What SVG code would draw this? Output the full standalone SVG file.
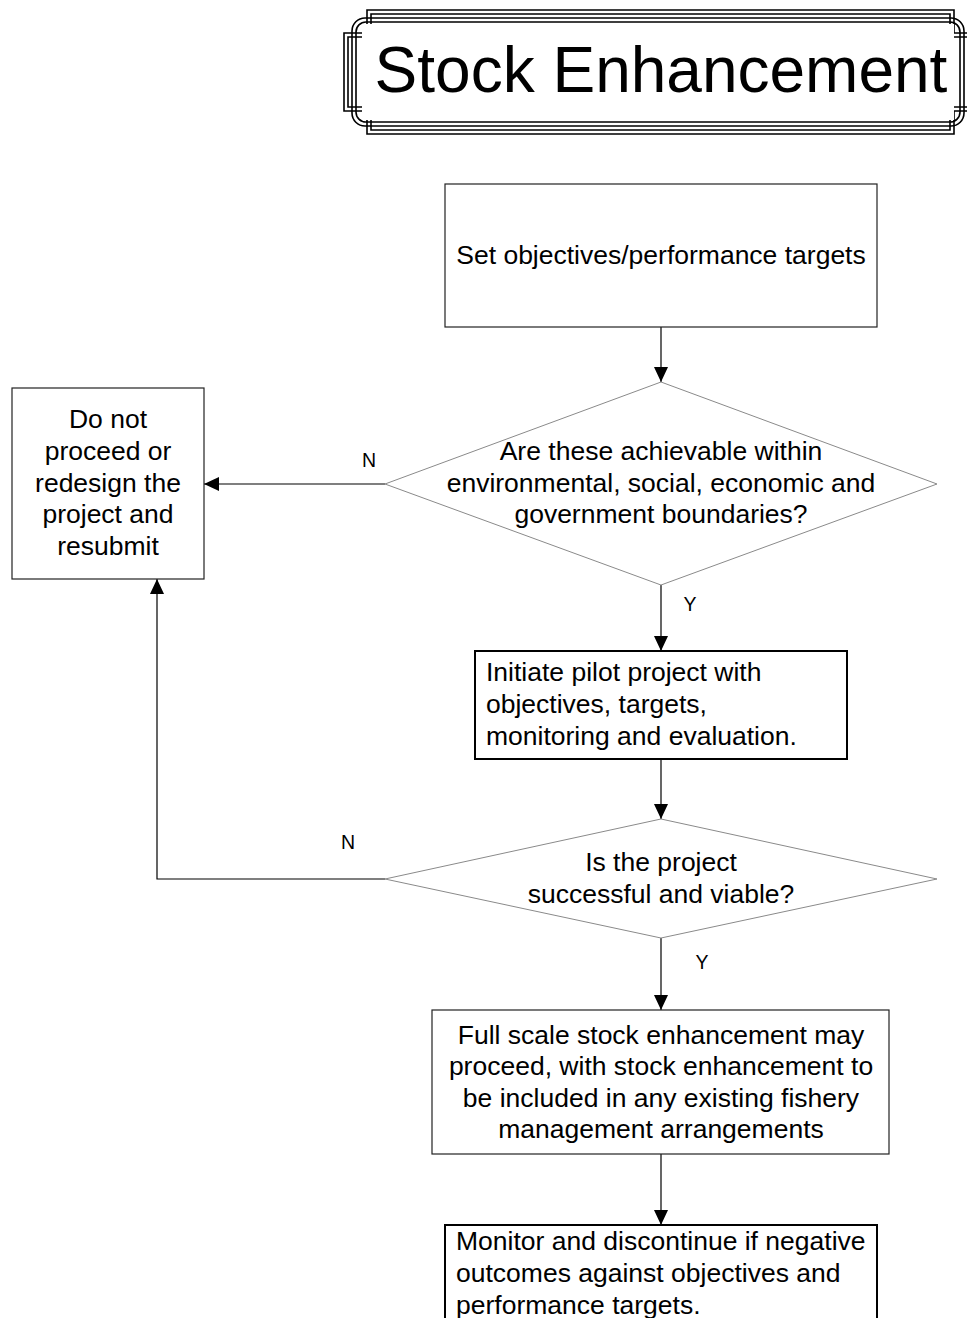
<svg xmlns="http://www.w3.org/2000/svg" width="967" height="1318" viewBox="0 0 967 1318">
<style>
.t{font-family:"Liberation Sans",Arial,sans-serif;font-size:26.5px;fill:#000}
.c{text-anchor:middle}
.lbl{font-family:"Liberation Sans",Arial,sans-serif;font-size:19.5px;fill:#000}
.box{fill:#fff;stroke:#222;stroke-width:1.2}
.boxb{fill:#fff;stroke:#000;stroke-width:2}
.dia{fill:#fff;stroke:#8a8a8a;stroke-width:1}
.fr{fill:none;stroke:#000;stroke-width:1.6}
.con{fill:none;stroke:#000;stroke-width:1.2}
</style>
<defs>
<marker id="ah" markerUnits="userSpaceOnUse" markerWidth="15" markerHeight="14" refX="15" refY="7" orient="auto">
<path d="M0,0 L15,7 L0,14 Z" fill="#000"/>
</marker>
</defs>
<rect width="967" height="1318" fill="#fff"/>
<g id="title">
<path class="fr" d="M367,10 H954 V33 H977 V111 H954 V134 H367 V111 H344 V33 H367 Z"/>
<path class="fr" d="M371,14 H950 V37 H973 V107 H950 V130 H371 V107 H348 V37 H371 Z"/>
<rect class="fr" x="352" y="18" width="612" height="108" rx="13"/>
<rect x="362" y="24" width="592" height="96" fill="#fff"/>
<rect class="fr" x="356" y="22" width="604" height="100" rx="10"/>
<text x="661" y="92" class="c" style="font-family:'Liberation Sans',Arial,sans-serif;font-size:64px">Stock Enhancement</text>
</g>
<g id="connectors">
<line class="con" x1="661" y1="327" x2="661" y2="382" marker-end="url(#ah)"/>
<line class="con" x1="385" y1="484" x2="204" y2="484" marker-end="url(#ah)"/>
<line class="con" x1="661" y1="585" x2="661" y2="651" marker-end="url(#ah)"/>
<line class="con" x1="661" y1="759" x2="661" y2="819" marker-end="url(#ah)"/>
<polyline class="con" points="385,879 157,879 157,579" marker-end="url(#ah)"/>
<line class="con" x1="661" y1="938" x2="661" y2="1010" marker-end="url(#ah)"/>
<line class="con" x1="661" y1="1154" x2="661" y2="1225" marker-end="url(#ah)"/>
<text class="lbl" x="369" y="467" text-anchor="middle">N</text>
<text class="lbl" x="690" y="611" text-anchor="middle">Y</text>
<text class="lbl" x="348" y="849" text-anchor="middle">N</text>
<text class="lbl" x="702" y="969" text-anchor="middle">Y</text>
</g>
<g id="n1">
<rect class="box" x="445" y="184" width="432" height="143"/>
<text class="t c" x="661" y="264">Set objectives/performance targets</text>
</g>
<g id="d1">
<polygon class="dia" points="661,382 937,484 661,585 385,484"/>
<text class="t c" x="661" y="460">Are these achievable within</text>
<text class="t c" x="661" y="492">environmental, social, economic and</text>
<text class="t c" x="661" y="523">government boundaries?</text>
</g>
<g id="n2">
<rect class="box" x="12" y="388" width="192" height="191"/>
<text class="t c" x="108" y="428">Do not</text>
<text class="t c" x="108" y="460">proceed or</text>
<text class="t c" x="108" y="492">redesign the</text>
<text class="t c" x="108" y="523">project and</text>
<text class="t c" x="108" y="555">resubmit</text>
</g>
<g id="n3">
<rect class="boxb" x="475" y="651" width="372" height="108"/>
<text class="t" x="486" y="681">Initiate pilot project with</text>
<text class="t" x="486" y="713">objectives, targets,</text>
<text class="t" x="486" y="745">monitoring and evaluation.</text>
</g>
<g id="d2">
<polygon class="dia" points="661,819 937,879 661,938 385,879"/>
<text class="t c" x="661" y="871">Is the project</text>
<text class="t c" x="661" y="903">successful and viable?</text>
</g>
<g id="n4">
<rect class="box" x="432" y="1010" width="457" height="144"/>
<text class="t c" x="661" y="1044">Full scale stock enhancement may</text>
<text class="t c" x="661" y="1075">proceed, with stock enhancement to</text>
<text class="t c" x="661" y="1107">be included in any existing fishery</text>
<text class="t c" x="661" y="1138">management arrangements</text>
</g>
<g id="n5">
<rect class="boxb" x="445" y="1225" width="432" height="110"/>
<text class="t" x="456" y="1250">Monitor and discontinue if negative</text>
<text class="t" x="456" y="1282">outcomes against objectives and</text>
<text class="t" x="456" y="1314">performance targets.</text>
</g>
</svg>
